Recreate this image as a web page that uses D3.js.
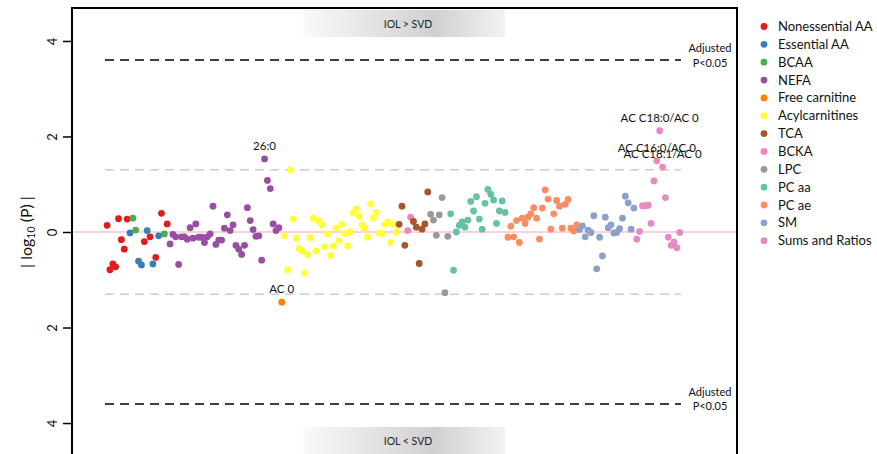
<!DOCTYPE html>
<html>
<head>
<meta charset="utf-8">
<script src="https://cdn.jsdelivr.net/npm/d3@7"></script>
<style>
  body { margin: 0; background: #fff; }
  text { font-family: Lato, "Open Sans", sans-serif; }
</style>
</head>
<body>
<div id="chart"></div>
<script>
// metabolite classes and their colours
const classes = ["Nonessential AA", "Essential AA", "BCAA", "NEFA", "Free carnitine",
  "Acylcarnitines", "TCA", "BCKA", "LPC", "PC aa", "PC ae", "SM", "Sums and Ratios"];
const classColors = ["#e41a1c", "#377eb8", "#4daf4a", "#984ea3", "#ff7f00", "#ffff33",
  "#a65628", "#f781bf", "#999999", "#66c2a5", "#fc8d62", "#8da0cb", "#e78ac3"];

// class of each metabolite, in plotting order
const pointClass = [
  0,0,0,0,0,0,0,0,1,2,2,1,1,0,1,0,1,0,1,0,2,0,
  3,3,3,3,3,3,3,3,3,3,3,3,3,3,3,3,3,3,3,3,3,3,3,3,3,3,3,3,3,3,3,3,3,3,3,3,3,3,3,
  4,
  5,5,5,5,5,5,5,5,5,5,5,5,5,5,5,5,5,5,5,5,5,5,5,5,5,5,5,5,5,5,5,5,5,5,5,5,5,5,5,5,
  6,6,6,7,7,6,6,6,6,6,6,
  8,8,8,8,8,8,8,
  9,9,9,9,9,9,9,9,9,9,9,9,9,9,9,9,9,9,9,9,
  10,10,10,10,10,10,10,10,10,10,10,10,10,10,10,10,10,10,10,10,10,10,10,10,10,
  11,11,11,11,11,11,11,11,11,11,11,11,11,11,11,11,11,11,11,11,
  12,12,12,12,12,12,12,12,12,12,12,12,12,12,12,12
];

// signed |log10(P)|: positive = IOL > SVD, negative = IOL < SVD
const pointValue = [
  0.14,-0.79,-0.67,-0.73,0.28,-0.16,-0.36,0.27,-0.02,0.29,0.04,-0.61,-0.69,-0.20,0.03,-0.10,-0.67,-0.53,-0.08,0.39,-0.04,0.17,
  -0.25,-0.05,-0.10,-0.68,-0.10,-0.10,-0.15,0.09,-0.13,0.17,-0.11,-0.11,-0.22,-0.10,-0.04,0.54,-0.26,-0.17,-0.17,0.08,
  0.36,0.03,0.15,-0.28,-0.36,-0.47,-0.28,0.51,0.24,0.05,-0.09,-0.08,-0.59,1.53,1.08,0.91,0.17,0.03,0.09,
  -1.47,
  -0.08,-0.79,1.30,0.27,-0.13,-0.34,-0.39,-0.86,-0.47,-0.12,0.29,-0.40,0.23,0.15,-0.31,-0.04,-0.49,-0.29,0.08,-0.18,
  0.16,-0.03,-0.29,0.00,0.40,0.49,0.33,0.15,0.08,-0.11,0.59,0.29,0.41,-0.02,-0.04,0.16,0.21,-0.22,0.16,0.00,
  0.16,0.54,-0.28,0.03,0.31,0.22,0.10,-0.66,0.06,0.17,0.84,
  0.37,0.25,-0.07,0.36,0.72,-1.27,-0.09,
  0.38,-0.80,0.00,0.14,0.21,0.10,0.25,0.64,0.44,0.74,0.27,0.06,0.60,0.89,0.79,0.67,0.18,0.44,0.65,0.41,
  -0.11,0.12,-0.10,0.24,-0.22,0.29,0.18,0.31,0.38,0.51,0.29,-0.15,0.50,0.88,0.69,0.06,0.38,0.66,0.54,0.08,0.58,0.68,0.08,0.02,0.15,
  0.05,0.13,-0.10,0.04,-0.01,0.34,-0.77,-0.11,-0.50,0.31,0.09,0.15,-0.02,-0.01,0.07,0.29,0.75,0.61,0.06,0.50,
  -0.15,0.01,0.55,0.55,0.56,0.18,1.07,1.49,2.12,1.36,0.72,-0.11,-0.28,-0.21,-0.33,-0.01
];

// annotated metabolites: index in plotting order and label
const labelIndex = [55, 61, 192, 193, 194];
const labelText = ["26:0", "AC 0", "AC C16:0/AC 0", "AC C18:0/AC 0", "AC C18:1/AC 0"];

const yTicks = [-4, -2, 0, 2, 4];
const sigLevel = -Math.log10(0.05);   // unadjusted P = 0.05
const adjLevel = 3.6;                 // adjusted P < 0.05

const W = 877, H = 454;
const box = {left: 72, right: 737, top: 8, bottom: 456};

const svg = d3.select("#chart").append("svg")
  .attr("width", W).attr("height", H);

const x = d3.scaleLinear().domain([-12.25, 220]).range([box.left, box.right]);
const y = d3.scaleLinear().domain([-4.69, 4.69]).range([box.bottom, box.top]);

// gradient for the direction banners
const defs = svg.append("defs");
const grad = defs.append("linearGradient").attr("id", "band");
grad.append("stop").attr("offset", "0%").attr("stop-color", "#fafafa");
grad.append("stop").attr("offset", "65%").attr("stop-color", "#d0d0d0");
grad.append("stop").attr("offset", "100%").attr("stop-color", "#f3f3f3");

const bandX0 = 303, bandX1 = 505;
svg.append("rect").attr("x", bandX0).attr("y", box.top + 2)
  .attr("width", bandX1 - bandX0).attr("height", 27).attr("fill", "url(#band)");
svg.append("rect").attr("x", bandX0).attr("y", 427)
  .attr("width", bandX1 - bandX0).attr("height", 27).attr("fill", "url(#band)");
svg.append("text").attr("x", 408).attr("y", 27.5).attr("text-anchor", "middle")
  .attr("font-size", 10.5).attr("fill", "#222").text("IOL > SVD");
svg.append("text").attr("x", 408).attr("y", 444.5).attr("text-anchor", "middle")
  .attr("font-size", 10.5).attr("fill", "#222").text("IOL < SVD");

// zero line
svg.append("line")
  .attr("x1", box.left).attr("x2", box.right)
  .attr("y1", y(0)).attr("y2", y(0))
  .attr("stroke", "#ffc0cb").attr("stroke-width", 1.5);

// significance thresholds
const lineX0 = 105, lineX1 = 681;
[sigLevel, -sigLevel].forEach(v => {
  svg.append("line")
    .attr("x1", lineX0).attr("x2", lineX1)
    .attr("y1", y(v)).attr("y2", y(v))
    .attr("stroke", "#cccccc").attr("stroke-width", 1.5)
    .attr("stroke-dasharray", "9,6");
});
[adjLevel, -adjLevel].forEach(v => {
  svg.append("line")
    .attr("x1", lineX0).attr("x2", lineX1)
    .attr("y1", y(v)).attr("y2", y(v))
    .attr("stroke", "#000").attr("stroke-width", 1.6)
    .attr("stroke-dasharray", "9,6");
  const t = svg.append("text")
    .attr("x", 710).attr("y", y(v) - 8)
    .attr("text-anchor", "middle").attr("font-size", 11).attr("fill", "#111");
  t.append("tspan").attr("x", 710).attr("dy", 0).text("Adjusted");
  t.append("tspan").attr("x", 710).attr("dy", 14.5).text("P<0.05");
});

// points
const points = pointValue.map((v, i) => ({i: i, v: v, c: pointClass[i]}));
svg.append("g").selectAll("circle")
  .data(points)
  .join("circle")
    .attr("cx", d => x(d.i))
    .attr("cy", d => y(d.v))
    .attr("r", 3.4)
    .attr("fill", d => classColors[d.c]);

// labels
labelIndex.forEach((idx, k) => {
  svg.append("text")
    .attr("x", x(idx)).attr("y", y(pointValue[idx]) - 9)
    .attr("text-anchor", "middle").attr("font-size", 11.5).attr("fill", "#111")
    .text(labelText[k]);
});

// y axis
const yAxis = svg.append("g")
  .attr("transform", `translate(${box.left},0)`)
  .call(d3.axisLeft(y).tickValues(yTicks).tickSize(9).tickFormat(d => Math.abs(d)));
yAxis.select(".domain").remove();
yAxis.selectAll(".tick line").attr("stroke", "#000").attr("stroke-width", 1.5);
yAxis.selectAll(".tick text")
  .attr("transform", "rotate(-90)")
  .attr("x", 0).attr("y", -15).attr("dy", 0)
  .attr("text-anchor", "middle")
  .attr("font-size", 13).attr("fill", "#111")
  .style("font-family", "Lato, sans-serif");

const title = svg.append("text")
  .attr("transform", `translate(32,${y(0)}) rotate(-90)`)
  .attr("text-anchor", "middle").attr("font-size", 16).attr("fill", "#111");
title.append("tspan").text("| log");
title.append("tspan").attr("font-size", 10.5).attr("dy", 3).text("10");
title.append("tspan").attr("dy", -3).text(" (P) |");

// frame: left, top, right (bottom runs off the picture)
svg.append("path")
  .attr("d", `M${box.left},${H}V${box.top}H${box.right}V${H}`)
  .attr("fill", "none").attr("stroke", "#000").attr("stroke-width", 2);

// legend
const legend = svg.append("g").attr("transform", "translate(764,26.5)");
classes.forEach((name, k) => {
  const row = legend.append("g").attr("transform", `translate(0,${k * 17.85})`);
  row.append("circle").attr("r", 3.4).attr("fill", classColors[k]);
  row.append("text").attr("x", 14).attr("dy", "0.35em")
    .attr("font-size", 13).attr("fill", "#111").text(name);
});
</script>
</body>
</html>
